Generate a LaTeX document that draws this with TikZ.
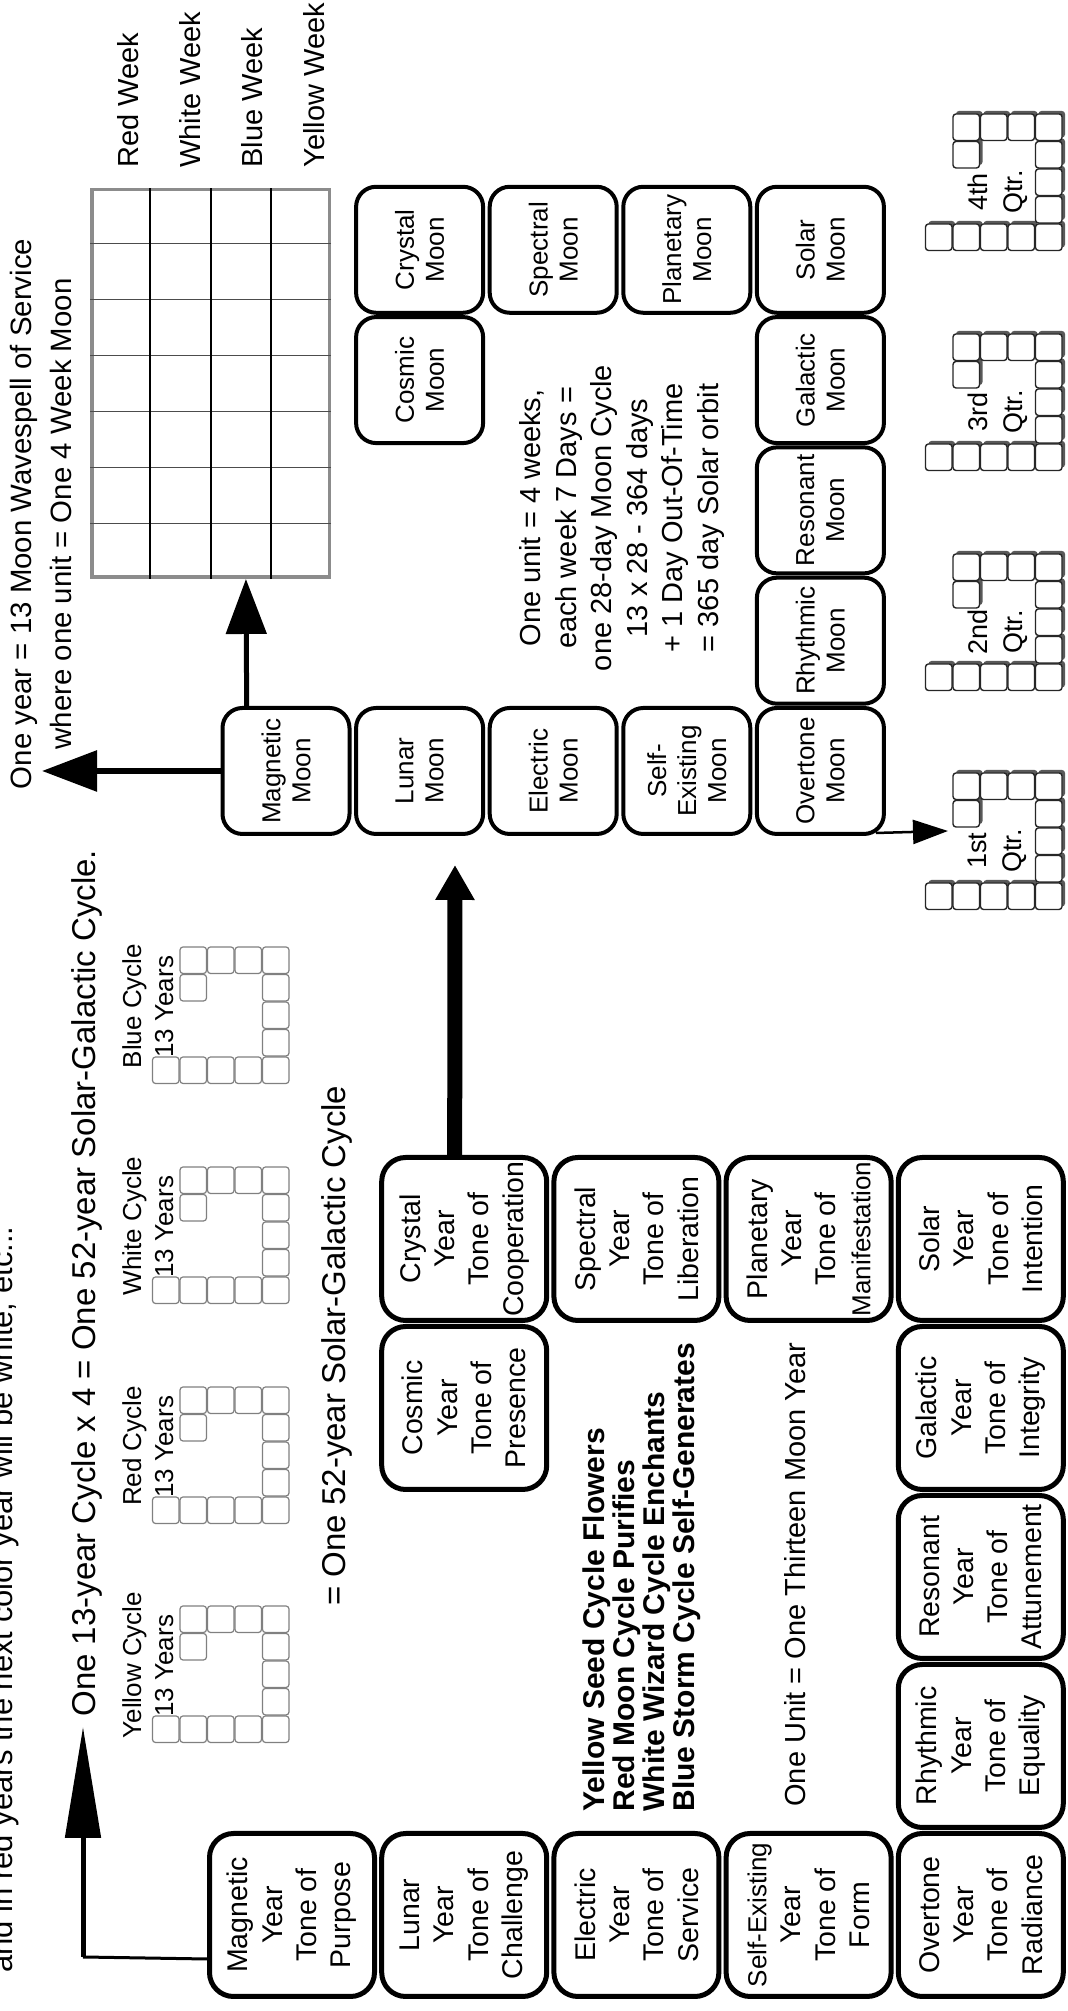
\documentclass[tikz,border=0pt]{standalone}
\usepackage{fontspec}
\setmainfont{Liberation Sans}
\usetikzlibrary{positioning}
\usetikzlibrary{calc}
\usetikzlibrary{arrows.meta}
\newcommand{\tightyr}[1]{{\fontsize{13}{17.15}\selectfont #1}}
\def\cells{0/0,0/1,3/1,4/1,0/2,4/2,0/3,4/3,0/4,1/4,2/4,3/4,4/4}

\begin{document}
\begin{tikzpicture}[x=0.5pt, y=0.5pt,
  text only/.style={inner sep=0pt},
  yearbox/.style={draw, line width=2.5pt, rounded corners=12pt, minimum width=81.5pt, minimum height=82.5pt,
    inner sep=0pt, align=center, font=\fontsize{14.25}{17.15}\selectfont},
  moonbox/.style={draw, line width=2pt, rounded corners=10pt, minimum width=63pt, minimum height=63.5pt,
    inner sep=0pt, align=center, font=\fontsize{13}{15}\selectfont},
  cell/.style={draw=black!50, line width=0.6pt, fill=white, rounded corners=1.5pt},
  qcell/.style={draw=black!85, line width=0.7pt, fill=white, rounded corners=1.5pt},
  qshade/.style={fill=black!65, rounded corners=1.5pt},
  thinline/.style={line width=1.5pt},
  arr13/.style={line width=2.5pt, -{Triangle[length=55.5pt, width=17.5pt]}},
  arrmoon/.style={line width=3pt, -{Triangle[length=27.5pt, width=20pt]}},
  bigarr/.style={line width=7.5pt, -{Triangle[length=17.5pt, width=18.5pt]}},
  smallarr/.style={line width=1.25pt, -{Triangle[length=17.5pt, width=12pt]}}]
\useasboundingbox (0,0) rectangle (1068,2011);
\begin{scope}[rotate=90, transform shape]
\node[text only, anchor=base west, font=\fontsize{15.5}{18}\selectfont]
  (note-top)
  at (38,-13)
  {and in red years the next color year will be white, etc...};
\node[text only, anchor=base west, font=\fontsize{16.5}{19}\selectfont]
  (note-cycle)
  at (294,-95)
  {One 13-year Cycle x 4 = One 52-year Solar-Galactic Cycle.};
\node[text only, anchor=base west, font=\fontsize{16.5}{19}\selectfont]
  (note-galactic)
  at (405,-345)
  {= One 52-year Solar-Galactic Cycle};
\foreach \ux/\colr in {268/Yellow, 487/Red, 707/White, 927/Blue} {
  \foreach \ci/\ri in \cells
    \draw[cell] (\ux+\ci*27.5+0.5, -152-\ri*27.5-0.5) rectangle ++(26.5,-26.5);
  \node[text only, anchor=base, font=\fontsize{13}{15}\selectfont]
    (cyc-\colr)
    at (\ux+78,-141)
    {\colr{} Cycle};
  \node[text only, anchor=base west, font=\fontsize{13}{15}\selectfont]
    (yrs-\colr)
    at (\ux+26,-173)
    {13 Years};
}
\foreach \cu/\rv/\name/\yname/\tone in {
    0/0/mag/Magnetic/Purpose, 0/1/lun/Lunar/Challenge, 0/2/ele/Electric/Service,
    0/3/sel/\tightyr{Self-Existing}/Form, 0/4/ove/Overtone/Radiance,
    1/4/rhy/Rhythmic/Equality, 2/4/res/Resonant/Attunement, 3/4/gal/Galactic/Integrity,
    4/4/sol/Solar/Intention, 4/3/pla/Planetary/\tightyr{Manifestation},
    4/2/spe/Spectral/Liberation, 4/1/cry/Crystal/Cooperation, 3/1/cos/Cosmic/Presence} {
  \node[yearbox]
    (y-\name)
    at (96+169*\cu, -292-172.2*\rv)
    {\yname\\Year\\Tone of\\\tone};
}
\node[text only, anchor=north west, align=left, font=\fontsize{15}{15}\selectfont\bfseries]
  (cycle-notes)
  at (199,-582)
  {Yellow Seed Cycle Flowers\\Red Moon Cycle Purifies\\White Wizard Cycle Enchants\\Blue Storm Cycle Self-Generates};
\node[text only, anchor=base west, font=\fontsize{14.5}{17}\selectfont]
  (unit-year)
  at (204,-805)
  {One Unit = One Thirteen Moon Year};
\coordinate (bend13) at (54,-83);
\coordinate (tip13) at (284,-83);
\draw[thinline] (y-mag.north west) ++(40,0) -- (bend13);
\draw[arr13] (bend13) -- (tip13);
\foreach \cu/\rv/\name/\mname in {
    0/0/mag/Magnetic, 0/1/lun/Lunar, 0/2/ele/Electric, 0/3/sel/Self-\\Existing, 0/4/ove/Overtone,
    1/4/rhy/Rhythmic, 2/4/res/Resonant, 3/4/gal/Galactic, 4/4/sol/Solar,
    4/3/pla/Planetary, 4/2/spe/Spectral, 4/1/cry/Crystal, 3/1/cos/Cosmic} {
  \node[moonbox]
    (m-\name)
    at (1240+130.3*\cu, -286-133.6*\rv)
    {\mname\\Moon};
}
\coordinate (cry-tip) at (1146,-455);
\draw[bigarr] ($(y-cry.south east)!0.556!(y-cry.north east)$) -- (cry-tip);
\node[text only, anchor=north, align=center, font=\fontsize{14.5}{17.8}\selectfont]
  (moon-notes)
  at (1493,-519)
  {One unit = 4 weeks,\\each week 7 Days =\\one 28-day Moon Cycle\\13 x 28 - 364 days\\+ 1 Day Out-Of-Time\\= 365 day Solar orbit};
\node[text only, anchor=north, align=center, font=\fontsize{14.7}{20}\selectfont]
  (wavespell)
  at (1497,-10)
  {One year = 13 Moon Wavespell of Service\\where one unit = One 4 Week Moon};
\coordinate (oneyear-tip) at (1240,-42);
\draw[arrmoon] (m-mag.north) -- (oneyear-tip);
\node[draw=black!45, line width=1.75pt, minimum width=193.75pt, minimum height=118.75pt, inner sep=0pt]
  (grid)
  at (1627.5,-210.5)
  {};
\foreach \i in {1,...,6}
  \draw[black!70, line width=0.5pt] ($(grid.south west)!\i/7!(grid.south east)$) -- ($(grid.north west)!\i/7!(grid.north east)$);
\foreach \i in {1,2,3}
  \draw[line width=1pt] ($(grid.south west)!\i/4!(grid.north west)$) -- ($(grid.south east)!\i/4!(grid.north east)$);
\draw[arrmoon, line width=2.5pt] ($(m-mag.south east)!0.8!(m-mag.north east)$) -- ($(grid.south west)!0.353!(grid.north west)$);
\foreach \wk/\bv in {Red/-138, White/-200, Blue/-262, Yellow/-324}
  \node[text only, anchor=base west, font=\fontsize{14.5}{17}\selectfont]
    (week-\wk)
    at (1843,\bv)
    {\wk{} Week};
\foreach \ux/\qn in {1101/1st, 1320/2nd, 1540/3rd, 1760/4th} {
  \foreach \ci/\ri in \cells
    \fill[qshade] (\ux+\ci*27.5+3.5, -925-\ri*27.5-3.5) rectangle ++(26.5,-26.5);
  \foreach \ci/\ri in \cells
    \draw[qcell] (\ux+\ci*27.5+0.5, -925-\ri*27.5-0.5) rectangle ++(26.5,-26.5);
  \node[text only, anchor=north, align=center, font=\fontsize{13.5}{17.5}\selectfont]
    (qtr-\qn)
    at (\ux+59,-968)
    {\qn\\Qtr.};
}
\coordinate (q1-tip) at (1180,-948);
\draw[smallarr] (m-ove.south west) ++(3,10) -- (q1-tip);
\end{scope}
\end{tikzpicture}
\end{document}
